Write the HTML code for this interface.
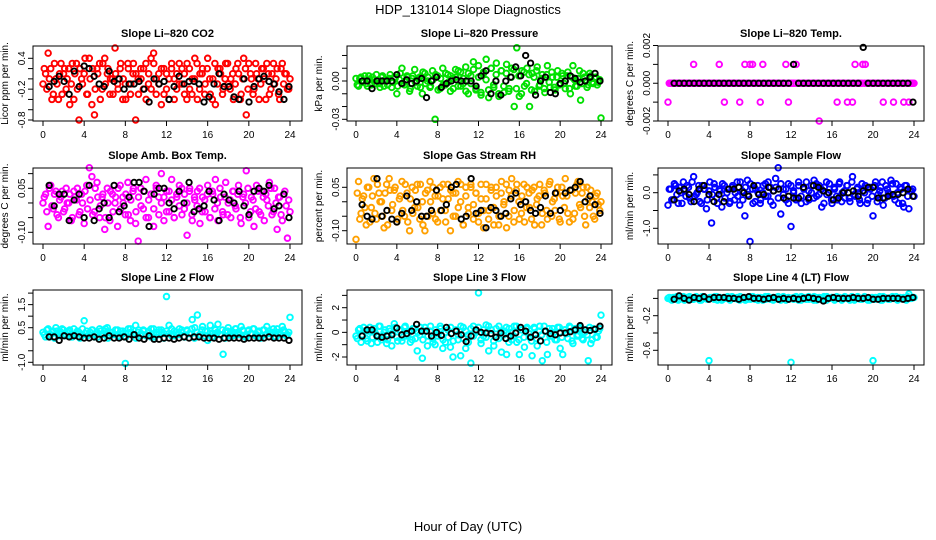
<!DOCTYPE html>
<html><head><meta charset="utf-8"><style>
html,body{margin:0;padding:0;background:#fff;}
svg{display:block;font-family:"Liberation Sans",Arial,sans-serif;}
</style></head><body>
<svg id="chart" width="936" height="540" viewBox="0 0 936 540">
<text x="468" y="14" text-anchor="middle" font-size="13">HDP_131014  Slope Diagnostics</text>
<text x="468" y="531" text-anchor="middle" font-size="13">Hour of Day (UTC)</text>
</svg>
<script>
const xTicks=[0,4,8,12,16,20,24];
const co2Vals=[-0.1,0.1,0.5,0.2,-0.3,0.0,-0.4,0.3,0.1,-0.2,0.2,-0.1,-0.4,0.3,-0.8,0.0,0.1,-0.3,0.4,-0.5,-0.7,0.2,0.3,-0.2,0.4,0.1,-0.3,0.0,0.6,-0.1,0.2,-0.4,-0.1,0.3,-0.3,0.1,-0.8,0.0,0.2,-0.2,0.3,-0.1,0.4,0.5,-0.3,0.1,-0.5,0.2,-0.2,0.0,0.3,-0.4,0.1,-0.1,0.2,-0.3,0.3,-0.2,0.0,0.4,-0.4,0.1,0.2,-0.1,0.4,-0.3,0.0,-0.5,0.2,0.1,-0.2,0.3,-0.1,0.0,-0.4,0.2,0.1,-0.3,0.4,-0.7,0.3,0.0,-0.2,0.1,-0.4,0.2,0.0,0.3,-0.3,0.1,-0.1,0.2,-0.4,0.3,0.1,-0.2,0.0];
const co2Vals2=[0.2,-0.2,0.0,-0.4,0.3,-0.1,0.1,-0.3,0.2,0.0,-0.5,0.3,0.1,-0.2,0.2,-0.1,0.4,-0.3,0.0,0.2,-0.2,0.1,-0.4,0.3,-0.1,0.2,0.0,-0.3,0.1,-0.2,0.3,0.0,-0.4,0.2,-0.1,0.3,0.1,-0.3,0.0,0.2,-0.4,0.1,-0.2,0.3,0.0,-0.1,0.2,-0.3,0.1,-0.4,0.2,0.0,-0.2,0.3,-0.1,0.1,-0.4,0.2,-0.3,0.0,0.3,-0.2,0.1,-0.3,0.2,0.0,-0.4,0.3,-0.1,0.2,-0.3,0.0,0.3,-0.2,0.1,-0.1,0.3,-0.4,0.0,0.2,-0.2,0.1,-0.3,0.3,0.0,-0.1,0.2,-0.4,0.1,-0.2,0.3,0.0,-0.3,0.2,-0.1,0.1,-0.2];
const co2Black=[-0.15,-0.05,0.05,-0.05,-0.3,0.15,-0.15,0.25,0.2,0.05,-0.1,-0.15,0.15,-0.05,0.0,-0.2,-0.1,-0.1,-0.05,-0.2,-0.45,0.0,-0.1,-0.05,-0.4,-0.15,0.05,-0.1,-0.05,-0.05,-0.1,-0.45,-0.35,-0.1,0.1,-0.15,-0.15,-0.35,-0.4,0.0,-0.45,-0.15,0.0,0.05,-0.05,-0.1,-0.25,-0.4,-0.15];
const presVals=[0.002,-0.004,0.003,0.0,-0.002,0.004,-0.003,0.001,0.005,-0.002,0.003,-0.004,0.0,0.002,-0.005,0.003,-0.01,0.001,0.01,-0.003,0.004,-0.008,0.002,0.009,-0.004,0.003,-0.01,0.006,0.0,-0.005,0.008,-0.03,0.004,-0.006,0.01,-0.003,0.005,-0.008,0.002,0.009,-0.004,0.007,-0.002,0.011,-0.01,0.004,0.015,-0.007,0.012,-0.011,0.006,0.017,-0.013,0.01,-0.005,0.014,-0.012,0.008,-0.009,0.013,-0.006,0.01,-0.02,0.026,-0.012,0.008,-0.004,0.01,-0.02,0.006,-0.008,0.011,-0.003,0.005,-0.009,0.012,-0.005,0.003,-0.007,0.008,-0.002,0.004,-0.006,0.007,-0.01,0.012,-0.004,0.002,-0.015,0.006,0.0,-0.003,0.004,-0.002,0.003,-0.001,-0.029];
const presVals2=[-0.003,0.002,-0.001,0.004,-0.004,0.001,0.003,-0.002,0.0,-0.005,0.004,0.001,-0.003,0.005,-0.001,0.002,-0.004,0.006,-0.002,0.0,0.003,-0.006,0.004,-0.001,0.002,-0.005,0.007,-0.002,0.003,-0.004,0.001,0.005,-0.007,0.002,-0.003,0.006,-0.001,0.004,-0.006,0.003,0.008,-0.004,0.002,-0.008,0.006,-0.002,0.009,-0.006,0.003,-0.009,0.007,0.001,-0.007,0.01,-0.003,0.005,-0.01,0.008,-0.004,0.006,-0.008,0.003,0.009,-0.006,0.004,-0.01,0.007,-0.002,0.005,-0.007,0.003,0.008,-0.004,0.002,-0.006,0.005,-0.001,0.007,-0.005,0.003,-0.003,0.006,-0.002,0.004,-0.006,0.003,0.001,-0.004,0.008,-0.002,0.003,-0.005,0.006,-0.001,0.002,-0.003,0.001];
const presBlack=[0,0,-0.006,0,0,0,0,0.005,-0.002,0.001,-0.002,0,0.002,-0.013,0,0.003,-0.005,-0.002,0,0.001,0.0,0,0,-0.004,0.004,0.008,-0.01,0,-0.011,0,0.003,0.011,0.004,0.02,0.014,-0.011,0,0.003,-0.009,-0.01,-0.002,0,0.004,0.002,-0.001,0,0.003,0.006,0];
const tempVals=[-0.001,0,0,0,0,0,0,0,0,0,0.001,0,0,0,0,0,0,0,0,0,0.001,0,-0.001,0,0,0,0,0,-0.001,0,0.001,0,0.001,0.001,0,0,-0.001,0.001,0,0,0,0,0,0,0,0,0.001,-0.001,0,0,0.001,0,0,0,0,0,0,0,0,-0.002,0,0,0,0,0,0,-0.001,0,0,0,-0.001,0,-0.001,0.001,0,0,0.001,0.001,0,0,0,0,0,0,-0.001,0,0,0,-0.001,0,0,0,-0.001,0,-0.001,0,0];
const tempVals2=[0,0,0,0,0,0,0,0,0,0,0,0,0,0,0,0,0,0,0,0,0,0,0,0,0,0,0,0,0,0,0,0,0,0,0,0,0,0,0,0,0,0,0,0,0,0,0,0,0,0,0,0,0,0,0,0,0,0,0,0,0,0,0,0,0,0,0,0,0,0,0,0,0,0,0,0,0,0,0,0,0,0,0,0,0,0,0,0,0,0,0,0,0,0,0,0,0];
const tempBlack=[0,0,0,0,0,0,0,0,0,0,0,0,0,0,0,0,0,0,0,0,0,0,0,0,0.001,0,0,0,0,0,0,0,0,0,0,0,0,0,0.0019,0,0,0,0,0,0,0,0,0,-0.001];
const ambVals=[0.0,0.03,-0.08,0.06,-0.02,0.04,-0.05,0.02,-0.03,0.05,0.0,-0.06,0.04,0.01,-0.04,0.03,-0.07,0.06,0.12,0.09,-0.03,0.07,-0.05,0.02,-0.09,0.05,-0.06,0.03,0.0,-0.08,0.06,0.02,-0.04,0.07,-0.06,0.04,-0.07,-0.13,0.05,-0.02,0.08,-0.05,0.03,-0.08,0.06,0.02,0.1,-0.06,0.04,-0.03,0.08,-0.05,0.02,0.06,-0.04,0.03,-0.11,0.05,-0.06,0.01,0.04,-0.07,0.02,-0.03,0.06,-0.05,0.03,0.08,-0.06,0.02,-0.04,0.07,0.0,-0.05,0.04,-0.02,0.06,-0.07,0.03,0.11,-0.05,0.02,-0.08,0.06,-0.03,0.04,-0.06,0.01,0.07,-0.04,0.05,-0.09,0.02,-0.06,0.04,-0.12,-0.03];
const ambVals2=[0.02,-0.03,0.05,-0.01,0.03,-0.04,0.01,0.04,-0.02,0.0,0.03,-0.05,0.02,0.05,-0.03,0.0,0.04,-0.02,0.01,-0.04,0.05,0.02,-0.01,0.03,-0.05,0.0,0.04,-0.03,0.02,0.05,-0.02,0.0,0.03,-0.04,0.01,0.05,-0.03,0.02,-0.01,0.04,-0.05,0.01,0.03,-0.02,0.05,-0.04,0.0,0.02,-0.03,0.04,0.01,-0.05,0.03,-0.01,0.05,-0.02,0.0,0.04,-0.04,0.02,-0.01,0.05,-0.03,0.01,0.03,-0.05,0.04,-0.02,0.0,0.05,-0.03,0.02,-0.04,0.01,0.04,-0.01,0.03,-0.05,0.02,0.0,0.05,-0.03,0.01,-0.02,0.04,-0.04,0.02,0.03,-0.01,0.05,-0.03,0.0,0.02,-0.04,0.03,-0.01,0.01];
const ambBlack=[0.06,-0.01,0.03,0.03,-0.06,0.01,0.03,-0.05,0.06,-0.06,-0.02,0.0,-0.05,0.06,-0.03,-0.01,0.02,0.07,0.07,0.04,-0.08,0.03,0.05,0.05,0.0,-0.02,0.04,0.0,0.07,-0.03,-0.02,-0.01,0.04,0.01,-0.06,0.03,0.01,0.0,0.04,-0.01,-0.04,0.04,0.05,0.04,0.06,-0.02,-0.01,0.03,-0.05];
const rhVals=[-0.13,0.07,-0.04,0.02,-0.08,0.05,-0.02,0.08,-0.06,0.03,0.0,-0.09,0.06,0.08,-0.03,0.04,-0.07,0.01,0.07,-0.05,0.03,-0.10,0.05,-0.02,0.06,-0.06,0.0,-0.10,0.04,0.07,-0.04,0.02,-0.07,0.05,0.01,-0.03,0.06,-0.10,0.03,-0.05,0.07,0.0,-0.08,0.05,-0.02,0.06,-0.06,0.03,-0.04,0.01,-0.09,0.06,-0.03,0.05,-0.08,0.02,-0.05,0.07,0.0,-0.09,0.04,0.08,-0.03,0.06,-0.06,0.02,-0.07,0.05,-0.02,0.04,-0.08,0.01,0.06,-0.04,0.03,-0.06,0.07,0.0,-0.03,0.05,-0.07,0.02,0.08,-0.04,0.04,-0.06,0.03,0.07,-0.02,0.05,-0.08,0.01,0.04,-0.05,0.02,-0.01,0.0];
const rhVals2=[0.03,-0.06,0.01,-0.02,0.05,-0.07,0.02,-0.04,0.06,0.0,-0.05,0.03,-0.08,0.04,-0.01,0.05,-0.06,0.02,-0.03,0.06,-0.07,0.01,-0.04,0.04,-0.02,0.06,-0.08,0.03,-0.05,0.0,0.05,-0.06,0.02,-0.03,0.06,-0.07,0.01,0.04,-0.05,0.03,-0.02,0.06,-0.08,0.02,-0.04,0.05,-0.01,0.03,-0.07,0.06,-0.03,0.01,-0.06,0.04,-0.02,0.05,-0.08,0.03,-0.01,0.06,-0.05,0.02,-0.07,0.04,0.0,-0.04,0.06,-0.02,0.03,-0.06,0.05,-0.01,0.02,-0.08,0.04,-0.03,0.06,-0.05,0.01,0.03,-0.06,0.05,-0.02,0.02,-0.07,0.04,-0.04,0.06,-0.01,0.03,-0.05,0.05,-0.02,0.0,-0.06,0.03,-0.03];
const rhBlack=[-0.01,-0.05,-0.06,0.08,-0.05,-0.03,-0.06,-0.07,-0.04,0.02,-0.03,0.0,-0.05,-0.05,-0.03,0.04,-0.03,-0.01,0.05,0.06,-0.06,-0.05,0.08,-0.04,-0.03,-0.09,-0.02,-0.03,-0.05,-0.04,0.01,0.03,-0.01,0.0,-0.03,-0.04,-0.02,0.02,-0.04,0.03,-0.03,0.03,0.04,0.05,0.07,0.0,0.02,-0.01,-0.04];
const flowVals=[-0.35,0.1,-0.2,0.2,-0.3,0.0,0.3,-0.1,0.15,-0.25,0.45,-0.05,0.2,-0.3,0.1,-0.45,0.05,-0.85,0.25,-0.15,0.1,-0.4,0.2,0.0,-0.3,0.15,-0.2,0.3,-0.35,0.05,-0.65,0.35,-1.37,0.1,-0.25,0.2,-0.3,0.0,0.25,-0.1,0.15,-0.35,0.4,0.7,-0.6,0.1,-0.2,0.25,-0.95,0.05,-0.15,0.2,-0.3,0.1,0.3,-0.2,0.0,0.35,-0.1,0.2,-0.4,0.15,-0.05,0.25,-0.3,0.1,-0.2,0.3,0.0,-0.15,0.2,-0.25,0.45,-0.1,0.15,-0.3,0.05,0.2,-0.2,0.1,-0.65,0.3,-0.05,0.15,-0.35,0.2,0.0,0.35,-0.1,0.25,-0.3,0.1,-0.4,0.2,-0.45,0.05,-0.1];
const flowVals2=[0.1,-0.2,0.25,-0.05,0.15,-0.3,0.05,0.2,-0.15,0.3,-0.1,0.0,-0.25,0.2,0.1,-0.2,0.3,-0.05,0.15,-0.3,0.05,0.25,-0.15,0.1,-0.25,0.2,0.0,-0.1,0.3,-0.2,0.15,-0.05,0.25,-0.3,0.1,0.0,-0.2,0.2,-0.1,0.3,-0.25,0.05,0.15,-0.15,0.25,-0.05,0.1,-0.3,0.2,0.0,-0.2,0.3,-0.1,0.15,-0.25,0.05,0.2,-0.15,0.25,-0.05,0.1,-0.3,0.3,0.0,-0.2,0.15,-0.1,0.25,-0.25,0.05,0.2,-0.15,0.3,-0.05,0.1,-0.2,0.25,0.0,-0.3,0.15,-0.1,0.2,-0.25,0.05,0.3,-0.15,0.1,-0.05,0.25,-0.2,0.0,0.15,-0.3,0.2,-0.1,0.05,0.1];
const flowBlack=[-0.2,0.05,0.1,-0.05,-0.25,0.1,0.2,-0.05,-0.25,-0.05,-0.25,0.1,0.1,0.15,0.0,-0.1,0.2,-0.05,-0.05,0.15,0.05,0.1,-0.15,-0.1,-0.15,-0.15,0.15,-0.15,0.2,0.15,0.05,0.0,-0.2,-0.15,0.0,0.0,0.05,-0.1,0.05,0.15,0.15,-0.15,-0.15,-0.1,-0.05,-0.05,0.0,0.1,-0.1];
const line2Vals=[0.3,0.1,0.45,0.2,0.35,0.5,0.15,0.3,0.4,0.2,0.35,0.1,0.45,0.25,0.3,0.15,0.8,0.35,0.2,0.4,0.1,0.3,0.45,0.2,0.35,0.5,0.15,0.3,0.2,0.4,0.1,0.35,-1.05,0.25,0.45,0.2,0.6,0.3,0.15,0.4,0.2,0.35,0.1,0.45,0.3,0.2,0.4,0.25,1.85,0.6,0.15,0.35,0.2,0.45,0.3,0.1,0.4,0.25,0.85,0.5,1.05,0.2,0.55,0.35,-0.05,0.6,0.25,0.4,0.65,0.2,-0.65,0.35,0.5,0.15,0.3,0.45,0.2,0.55,0.35,0.1,0.4,0.25,0.45,0.2,0.35,0.15,0.4,0.55,0.25,0.3,0.1,0.45,0.2,0.55,0.3,0.2,0.95];
const line2Vals2=[0.2,0.4,0.1,0.3,0.05,0.35,0.25,0.45,0.15,0.3,0.4,0.1,0.2,0.35,0.05,0.45,0.25,0.15,0.3,0.4,0.2,0.1,0.35,0.25,0.45,0.05,0.3,0.2,0.4,0.15,0.35,0.25,0.1,0.45,0.3,0.2,0.05,0.4,0.25,0.35,0.15,0.3,0.45,0.1,0.2,0.4,0.3,0.05,0.35,0.25,0.45,0.15,0.3,0.2,0.4,0.1,0.35,0.25,0.45,0.05,0.3,0.2,0.4,0.15,0.35,0.25,0.1,0.45,0.3,0.2,0.4,0.05,0.35,0.25,0.15,0.45,0.3,0.2,0.4,0.1,0.35,0.25,0.45,0.15,0.3,0.05,0.4,0.2,0.35,0.25,0.45,0.1,0.3,0.2,0.4,0.15,0.3];
const line2Black=[0.1,0.1,-0.05,0.15,0.1,0.15,0.1,0.05,0.05,0.1,0.0,0.05,0.15,0.05,0.05,0.1,0.0,0.2,0.05,0.0,0.15,0.0,0.0,0.05,0.05,0.0,0.05,0.1,0.05,0.1,0.1,0.05,0.05,0.05,0.0,0.05,0.05,0.05,0.05,0.0,0.05,0.05,0.05,0.05,0.1,0.05,0.05,0.05,-0.05];
const line3Vals=[-0.3,0.2,-0.8,0.4,-0.5,0.1,-0.9,0.3,-0.2,0.5,-0.6,0.0,-0.9,0.3,-1.1,0.7,-0.4,0.2,-0.7,0.4,-0.3,0.1,-0.6,0.3,-1.5,-0.2,-2.1,0.4,-1.1,0.1,-0.5,-1.0,-0.3,0.5,-1.3,-0.8,0.2,-1.2,-2.0,0.1,-0.6,-1.9,0.4,-1.3,-0.2,-2.5,0.5,0.1,3.2,-0.9,-0.3,0.6,-1.5,0.2,-1.1,-0.4,0.5,-1.6,0.1,-1.8,0.3,-0.6,0.5,-0.8,-1.8,0.2,-1.2,0.4,-0.4,-1.9,0.3,-1.1,0.5,-2.3,0.1,-1.8,-0.3,0.3,-0.6,0.4,-1.3,-1.8,0.2,-0.5,0.4,-0.9,0.3,-0.2,0.4,-0.6,0.2,-2.3,-0.9,0.3,-0.4,0.1,1.4];
const line3Vals2=[-0.5,0.3,-0.2,0.1,-0.7,0.4,-0.4,0.0,-0.8,0.5,-0.3,0.2,-0.6,0.1,-0.1,0.4,-0.7,0.2,-0.4,0.5,-0.2,-0.8,0.3,-0.5,0.0,0.4,-0.6,0.1,-0.3,0.5,-0.8,0.2,-0.1,0.3,-0.6,0.0,-0.4,0.4,-0.7,0.2,-0.2,0.5,-0.5,0.1,-0.8,0.3,-0.3,0.0,0.4,-0.6,0.2,-0.4,0.5,-0.1,-0.7,0.3,-0.5,0.1,-0.2,0.4,-0.8,0.0,-0.3,0.5,-0.6,0.2,-0.4,0.3,-0.1,-0.7,0.4,-0.5,0.1,-0.2,0.5,-0.8,0.3,-0.3,0.0,-0.6,0.4,-0.4,0.2,-0.1,0.5,-0.7,0.1,-0.3,0.3,-0.5,0.0,-0.2,0.4,-0.6,0.2,-0.4,0.3];
const line3Black=[-0.3,0.2,0.2,-0.3,-0.4,-0.3,-0.2,0.35,-0.2,-0.1,0.1,0.65,0.1,0.1,-0.3,0.0,-0.25,0.4,-0.1,0.1,-0.2,-0.75,-0.3,0.2,0.0,-0.05,-0.1,-0.4,-0.05,-0.5,-0.3,-0.05,0.4,0.1,-0.4,-0.2,-0.7,0.1,-0.1,-0.2,-0.05,-0.05,0.05,0.2,0.55,0.2,0.15,0.25,0.5];
const line4Vals=[0.0,-0.01,0.01,0.0,-0.02,0.01,0.02,-0.01,0.0,0.01,-0.01,0.02,0.0,-0.02,0.01,0.0,-0.72,0.01,-0.01,0.02,0.0,-0.02,0.01,0.0,-0.01,0.02,0.0,0.01,-0.02,0.0,0.01,-0.01,0.02,0.0,-0.01,0.01,0.0,-0.02,0.02,0.0,-0.01,0.01,0.0,0.02,-0.02,0.01,0.0,-0.01,-0.74,0.01,0.0,-0.02,0.02,0.0,0.01,-0.01,0.0,0.02,-0.02,0.01,0.0,-0.01,0.02,0.0,0.01,-0.02,0.0,0.01,-0.01,0.02,0.0,-0.02,0.01,0.0,0.02,-0.01,0.0,0.01,-0.02,0.0,-0.72,0.01,0.0,-0.02,0.02,0.0,-0.01,0.01,0.0,0.02,-0.01,0.0,0.01,-0.02,0.05,0.0,0.01];
const line4Vals2=[0.01,-0.02,0.0,0.02,-0.01,0.0,-0.02,0.01,0.02,-0.01,0.0,0.01,-0.02,0.02,0.0,-0.01,0.01,0.0,0.02,-0.02,0.01,-0.01,0.0,0.02,-0.02,0.01,0.0,-0.01,0.02,0.0,-0.02,0.01,-0.01,0.02,0.0,-0.02,0.01,0.0,-0.01,0.02,0.0,-0.02,0.01,-0.01,0.0,0.02,-0.02,0.01,0.0,-0.01,0.02,0.0,-0.02,0.01,-0.01,0.02,0.0,-0.02,0.01,0.0,-0.01,0.02,-0.02,0.0,0.01,-0.01,0.02,0.0,-0.02,0.01,0.0,-0.01,0.02,-0.02,0.01,0.0,-0.01,0.02,0.0,-0.02,0.01,-0.01,0.0,0.02,-0.02,0.01,0.0,-0.01,0.02,0.0,-0.02,0.01,0.0,-0.01,0.02,0.0,0.01];
const line4Black=[-0.01,0.03,0.0,-0.02,0.01,0.0,0.02,-0.01,0.01,0.01,0.01,0.0,0.0,-0.01,0.01,0.02,0.0,0.0,-0.01,0.0,0.01,-0.01,0.0,-0.01,0.0,-0.01,0.0,0.01,0.0,-0.01,-0.03,0.0,0.01,0.0,0.0,0.0,0.01,0.0,0.0,0.01,-0.01,-0.01,0.0,0.0,0.0,0.0,-0.01,0.0,0.01];
const co2Ticks=[-0.8,-0.6,-0.4,-0.2,0,0.2,0.4], co2Labels=["-0.8","-0.2","0.4"];
const presTicks=[-0.03,-0.02,-0.01,0,0.01,0.02], presLabels=["-0.03","0.00"];
const tempTicks=[-0.002,-0.001,0,0.001,0.002], tempLabels=["-0.002","0.000","0.002"];
const ambTicks=[-0.10,-0.05,0,0.05,0.10], ambLabels=["-0.10","0.05"];
const rhTicks=[-0.10,-0.05,0,0.05], rhLabels=["-0.10","0.05"];
const flowTicks=[-1.0,-0.5,0,0.5], flowLabels=["-1.0","0.0"];
const line2Ticks=[-1.0,-0.5,0,0.5,1.0,1.5,2.0], line2Labels=["-1.0","0.5","1.5"];
const line3Ticks=[-2,-1,0,1,2,3], line3Labels=["-2","0","2"];
const line4Ticks=[-0.6,-0.4,-0.2,0], line4Labels=["-0.6","-0.2"];

const NS="http://www.w3.org/2000/svg";
const svg=document.getElementById('chart');
function el(tag,attrs,parent){const e=document.createElementNS(NS,tag);for(const k in attrs)e.setAttribute(k,attrs[k]);(parent||svg).appendChild(e);return e;}
const cols=[{L:33,R:302,x0:43,x24:290},{L:347,R:612,x0:356,x24:601},{L:658,R:924,x0:668,x24:914}];
const rows=[{T:46,B:121},{T:168,B:244},{T:290,B:365}];
const panels=[
 {name:'co2',title:'Slope Li\u2013820 CO2',ylab:'Licor ppm per min.',c:0,r:0,color:'#ff0000',vals:co2Vals,vals2:co2Vals2,blk:co2Black,ticks:co2Ticks,labels:co2Labels,ref:[0.4,58.3,-0.8,120]},
 {name:'pressure',title:'Slope Li\u2013820 Pressure',ylab:'kPa per min.',c:1,r:0,color:'#00e000',vals:presVals,vals2:presVals2,blk:presBlack,ticks:presTicks,labels:presLabels,ref:[0,81,-0.03,119.3]},
 {name:'temp',title:'Slope Li\u2013820 Temp.',ylab:'degrees C per min.',c:2,r:0,color:'#ff00ff',vals:tempVals,vals2:tempVals2,blk:tempBlack,ticks:tempTicks,labels:tempLabels,ref:[0.002,45.5,-0.002,121]},
 {name:'amb-temp',title:'Slope Amb. Box Temp.',ylab:'degrees C per min.',c:0,r:1,color:'#ff00ff',vals:ambVals,vals2:ambVals2,blk:ambBlack,ticks:ambTicks,labels:ambLabels,ref:[0.05,188.3,-0.10,232.3]},
 {name:'rh',title:'Slope Gas Stream RH',ylab:'percent per min.',c:1,r:1,color:'#ffa000',vals:rhVals,vals2:rhVals2,blk:rhBlack,ticks:rhTicks,labels:rhLabels,ref:[0.05,187.3,-0.10,230.7]},
 {name:'sample-flow',title:'Slope Sample Flow',ylab:'ml/min per min.',c:2,r:1,color:'#0000ff',vals:flowVals,vals2:flowVals2,blk:flowBlack,ticks:flowTicks,labels:flowLabels,ref:[0,192.7,-1,228.3]},
 {name:'line2',title:'Slope Line 2 Flow',ylab:'ml/min per min.',c:0,r:2,color:'#00ffff',vals:line2Vals,vals2:line2Vals2,blk:line2Black,ticks:line2Ticks,labels:line2Labels,ref:[0.5,327.7,-1,362.3]},
 {name:'line3',title:'Slope Line 3 Flow',ylab:'ml/min per min.',c:1,r:2,color:'#00ffff',vals:line3Vals,vals2:line3Vals2,blk:line3Black,ticks:line3Ticks,labels:line3Labels,ref:[2,307.7,-2,357]},
 {name:'line4',title:'Slope Line 4 (LT) Flow',ylab:'ml/min per min.',c:2,r:2,color:'#00ffff',vals:line4Vals,vals2:line4Vals2,blk:line4Black,ticks:line4Ticks,labels:line4Labels,ref:[-0.2,315.7,-0.6,350.3]}
];
panels.forEach(p=>{
 const C=cols[p.c],Rw=rows[p.r];
 const g=el('g',{});
 
 
 const xs=h=>C.x0+(C.x24-C.x0)*h/24;
 const ys=v=>p.ref[1]+(v-p.ref[0])*(p.ref[3]-p.ref[1])/(p.ref[2]-p.ref[0]);
 const t=el('text',{x:(C.L+C.R)/2,y:Rw.T-9,'text-anchor':'middle','font-size':11,'font-weight':'bold'},g);
 t.textContent=p.title;
 
 
 const yl=el('text',{transform:`translate(${C.L-25},${(Rw.T+Rw.B)/2}) rotate(-90)`,'text-anchor':'middle','font-size':10},g);
 yl.textContent=p.ylab;
 
 
 const n=p.vals.length;
 p.vals.forEach((v,i)=>{
  const c=el('circle',{cx:xs(i*24/(n-1)),cy:ys(v),r:2.8,fill:'none',stroke:p.color,'stroke-width':1.9},g);
  
  
 });
 const n2=p.vals2.length;
 p.vals2.forEach((v,i)=>{
  const c=el('circle',{cx:xs((i+0.5)*24/n2),cy:ys(v),r:2.8,fill:'none',stroke:p.color,'stroke-width':1.9},g);
  
  
 });
 const m=p.blk.length;
 p.blk.forEach((v,i)=>{
  const c=el('circle',{cx:xs(0.6+i*23.3/(m-1)),cy:ys(v),r:2.7,fill:'none',stroke:'#000','stroke-width':1.9},g);
  
  
 });
 const box=el('rect',{x:C.L,y:Rw.T,width:C.R-C.L,height:Rw.B-Rw.T,fill:'none',stroke:'#000','stroke-width':1},g);
 
 
 xTicks.forEach(h=>{
  el('line',{x1:xs(h),x2:xs(h),y1:Rw.B,y2:Rw.B+5,stroke:'#000'},g);
  const tl=el('text',{x:xs(h),y:Rw.B+17,'text-anchor':'middle','font-size':10},g);
  tl.textContent=String(h);
  
  
 });
 p.ticks.forEach(v=>{
  el('line',{x1:C.L-5,x2:C.L,y1:ys(v),y2:ys(v),stroke:'#000'},g);
 });
 p.labels.forEach(s=>{
  const v=parseFloat(s);
  const tl=el('text',{transform:`translate(${C.L-8},${ys(v)}) rotate(-90)`,'text-anchor':'middle','font-size':10},g);
  tl.textContent=s;
  
  
 });
});
</script>
</body></html>
